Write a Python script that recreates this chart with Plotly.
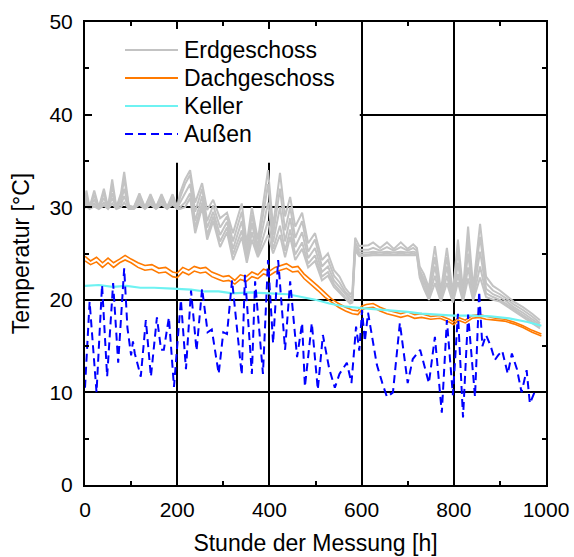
import plotly.graph_objects as go

# ---------------- data ----------------
# Erdgeschoss: five gray sensor curves on a common hour grid
EG_HOURS = [0, 3, 10, 20, 30, 41, 50, 59, 68, 78, 85, 95, 106, 118, 130, 142, 154, 166, 178, 190, 200,
            206, 217, 228, 239, 254, 265, 278, 293, 308, 321, 340, 351, 362, 375, 397, 408, 423, 434, 445,
            456, 471, 484, 499, 514, 527, 540, 552, 564, 575, 580, 586, 595, 615, 625, 640, 655, 670, 685,
            700, 712,
            720, 726, 735, 746, 759, 772, 785, 798, 809, 820, 831, 842, 857, 870, 885, 900, 915, 930, 950,
            970, 987]
EG_1 = [30.5, 31.8, 30.0, 31.8, 30.0, 32.0, 30.0, 33.0, 30.0, 31.5, 33.8, 30.2, 30.0, 31.5, 30.0, 31.4, 30.0, 31.4, 30.0, 31.4, 30.0,
        31.5, 33.0, 34.0, 30.5, 32.6, 29.7, 30.8, 28.8, 29.4, 27.2, 30.4, 26.1, 30.0, 26.5, 34.0, 27.9, 33.7, 29.0, 31.1,
        27.9, 29.4, 26.1, 27.2, 24.3, 25.0, 23.2, 22.5, 21.3, 20.6, 20.8, 26.7, 25.8, 25.9, 26.2, 25.6, 26.2, 25.5, 26.2,
        25.5, 26.0,
        25.6, 23.6, 22.8, 21.3, 25.8, 21.0, 25.6, 20.8, 26.5, 21.0, 27.9, 21.3, 28.2, 22.5, 21.5, 21.0, 20.4, 19.8, 19.2,
        18.5, 17.8]
EG_2 = [30.3, 31.3, 30.0, 31.3, 30.0, 31.5, 30.0, 32.3, 30.0, 31.0, 33.0, 30.1, 30.0, 31.2, 30.0, 31.2, 30.0, 31.2, 30.0, 31.2, 30.0,
        31.0, 32.5, 33.5, 29.5, 32.0, 28.5, 30.2, 27.8, 29.0, 26.3, 29.5, 25.3, 29.2, 25.7, 32.5, 27.0, 32.0, 27.5, 30.0,
        26.7, 28.5, 25.2, 26.5, 23.6, 24.3, 22.6, 21.9, 20.9, 20.3, 20.4, 26.2, 25.4, 25.4, 25.6, 25.3, 25.7, 25.3, 25.7,
        25.3, 25.6,
        25.3, 23.2, 22.3, 20.9, 24.6, 20.6, 24.6, 20.4, 25.3, 20.6, 26.5, 20.9, 26.8, 21.8, 21.0, 20.6, 20.1, 19.5, 18.9,
        18.2, 17.5]
EG_3 = [30.2, 30.8, 30.0, 30.8, 30.0, 31.0, 30.0, 31.5, 30.0, 30.6, 32.0, 30.0, 30.0, 30.9, 30.0, 30.9, 30.0, 30.9, 30.0, 30.9, 29.9,
        30.5, 31.5, 32.5, 28.5, 31.2, 27.8, 29.5, 27.0, 28.4, 25.5, 28.5, 24.8, 28.3, 25.2, 30.5, 26.2, 30.0, 26.3, 28.8,
        25.7, 27.3, 24.5, 25.6, 23.0, 23.6, 22.1, 21.4, 20.6, 20.0, 20.1, 25.8, 25.1, 25.1, 25.2, 25.1, 25.2, 25.1, 25.2,
        25.1, 25.2,
        25.1, 23.0, 21.9, 20.6, 23.6, 20.3, 23.6, 20.1, 24.0, 20.3, 25.0, 20.5, 25.2, 21.2, 20.6, 20.3, 19.8, 19.2, 18.6,
        17.9, 17.3]
EG_4 = [30.0, 30.4, 29.9, 30.4, 29.9, 30.5, 29.9, 31.0, 29.9, 30.3, 31.2, 29.9, 29.9, 30.6, 29.9, 30.6, 29.9, 30.6, 29.9, 30.6, 29.9,
        30.0, 30.5, 31.5, 27.8, 30.5, 27.0, 29.0, 26.3, 27.8, 24.9, 27.5, 24.3, 27.3, 24.8, 28.5, 25.5, 28.0, 25.3, 27.6,
        24.9, 26.2, 23.9, 24.8, 22.5, 23.0, 21.7, 21.0, 20.3, 19.8, 19.9, 25.5, 24.9, 24.9, 25.0, 24.9, 25.0, 24.9, 25.0,
        24.9, 25.0,
        24.9, 22.7, 21.5, 20.3, 22.6, 20.0, 22.6, 19.9, 22.8, 20.0, 23.5, 20.2, 23.6, 20.7, 20.3, 20.0, 19.5, 19.0, 18.4,
        17.7, 17.1]
EG_5 = [29.9, 30.1, 29.8, 30.1, 29.8, 30.2, 29.8, 30.4, 29.8, 30.0, 30.5, 29.8, 29.8, 30.3, 29.8, 30.3, 29.8, 30.3, 29.8, 30.3, 29.8,
        29.8, 30.0, 31.0, 27.2, 30.0, 26.5, 28.5, 25.7, 27.3, 24.3, 26.8, 24.0, 26.5, 24.6, 27.0, 25.0, 27.0, 24.6, 26.8,
        24.3, 25.5, 23.5, 24.2, 22.1, 22.6, 21.4, 20.8, 20.1, 19.6, 19.7, 25.3, 24.7, 24.8, 24.8, 24.8, 24.8, 24.8, 24.8,
        24.8, 24.8,
        24.8, 22.4, 21.2, 20.0, 21.8, 19.8, 21.8, 19.7, 21.9, 19.8, 22.3, 19.9, 22.4, 20.3, 20.0, 19.8, 19.3, 18.8, 18.2,
        17.5, 16.9]

# Dachgeschoss: two orange sensor curves
DG_HOURS = [0, 12, 25, 38, 50, 62, 75, 87, 100, 115, 130, 145, 160, 175, 190, 200, 212, 225, 237, 250,
            262, 275, 290, 300, 312, 325, 337, 350, 362, 375, 387, 400, 412, 425, 437, 450, 462, 475, 490, 505,
            520, 535, 550, 565, 580, 592, 600, 610, 625, 640, 655, 670, 685, 700, 715, 730, 750, 770, 790, 800,
            810, 825, 840, 855, 870, 890, 910, 930, 950, 970, 990]
DG_1 = [24.7, 24.2, 24.6, 24.0, 24.5, 24.0, 24.4, 24.8, 24.4, 24.0, 23.7, 23.8, 23.4, 23.5, 23.0, 22.9, 23.5, 23.2, 23.6, 23.4,
        23.5, 23.0, 22.7, 22.5, 22.6, 22.1, 22.7, 22.5, 23.0, 22.7, 23.3, 23.1, 23.5, 23.7, 23.9, 23.5, 23.6, 22.8, 22.2, 21.5,
        20.8, 20.1, 19.6, 19.2, 18.9, 18.8, 19.3, 19.5, 19.6, 19.2, 18.9, 18.7, 18.5, 18.7, 18.4, 18.5, 18.2, 18.3, 17.9, 17.6,
        18.1, 17.8, 18.3, 18.4, 18.2, 18.0, 17.9, 17.6, 17.2, 16.7, 16.3]
DG_2 = [24.2, 23.8, 24.1, 23.5, 24.0, 23.5, 24.0, 24.3, 24.0, 23.5, 23.2, 23.3, 22.9, 23.0, 22.5, 22.4, 23.0, 22.7, 23.1, 22.9,
        23.0, 22.5, 22.2, 22.0, 22.1, 21.7, 22.2, 22.0, 22.5, 22.3, 22.8, 22.6, 23.0, 23.2, 23.4, 23.0, 23.1, 22.3, 21.7, 21.0,
        20.3, 19.7, 19.2, 18.8, 18.5, 18.4, 18.9, 19.1, 19.2, 18.8, 18.5, 18.3, 18.1, 18.3, 18.0, 18.1, 17.9, 18.0, 17.6, 17.3,
        17.8, 17.5, 18.0, 18.1, 17.9, 17.8, 17.7, 17.4, 17.0, 16.5, 16.1]

# Keller
KE_HOURS = [0, 30, 60, 90, 120, 150, 190, 230, 260, 290, 320, 360, 400, 440, 470, 500, 530, 560, 600, 630,
            660, 700, 730, 770, 800, 840, 880, 920, 960, 990]
KE_TEMP = [21.5, 21.6, 21.4, 21.5, 21.3, 21.3, 21.2, 21.1, 20.9, 20.9, 20.7, 20.8, 20.7, 20.6, 20.3, 20.0, 19.6, 19.3, 19.1, 19.0,
           18.9, 18.7, 18.5, 18.4, 18.3, 18.3, 18.2, 18.0, 17.6, 17.2]

# Außen (outdoor)
AU_HOURS = [0, 10, 25, 37, 48, 61, 72, 85, 92, 100, 104, 108, 121, 132, 143, 156, 165, 171, 182, 193,
            208, 219, 230, 242, 254, 266, 275, 290, 300, 308, 319, 340, 347, 362, 369, 386, 397, 408, 419, 434,
            445, 460, 471, 477, 492, 505, 516, 530, 542, 552, 568, 578, 588, 595, 601, 607, 614, 633, 645, 655,
            668, 683, 700, 711, 727, 746, 759, 774, 785, 798, 809, 820, 831, 846, 855, 862, 870, 880, 889, 896,
            905, 917, 926, 937, 947, 958, 965, 975, 980]
AU_TEMP = [10.5, 19.8, 10.0, 21.6, 11.7, 21.8, 13.2, 23.4, 17.0, 14.0, 15.5, 14.2, 11.7, 17.8, 11.7, 18.1, 14.6, 14.6, 18.1, 10.6,
           20.0, 12.5, 21.0, 14.5, 21.2, 16.5, 16.8, 12.0, 16.5, 16.3, 22.1, 11.9, 22.7, 12.0, 22.0, 12.0, 24.3, 15.3, 24.3, 14.6,
           22.0, 13.8, 17.5, 10.6, 17.5, 10.3, 16.2, 12.5, 10.5, 12.0, 13.2, 11.0, 17.1, 14.5, 18.9, 15.5, 18.6, 13.0, 11.0, 9.5,
           10.0, 17.5, 11.0, 13.6, 14.6, 11.0, 16.0, 7.8, 17.8, 9.7, 18.5, 7.3, 18.4, 9.5, 20.9, 15.0, 16.2, 15.0, 13.5, 14.0,
           14.5, 12.0, 14.2, 12.5, 10.0, 12.4, 8.8, 10.0, 10.2]

X_TICKS = [0, 200, 400, 600, 800, 1000]
Y_TICKS = [0, 10, 20, 30, 40, 50]
LEGEND_NAMES = ["Erdgeschoss", "Dachgeschoss", "Keller", "Außen"]

# ---------------- styles ----------------
FONT = "Liberation Sans, Arial, sans-serif"
C_GRAY = "#c3c3c3"
C_ORANGE = "#ff7a00"
C_CYAN = "#6ef2f2"
C_BLUE = "#0000ff"

fig = go.Figure()
for s in [EG_1, EG_2, EG_3, EG_4, EG_5]:
    fig.add_trace(go.Scatter(x=EG_HOURS, y=s, mode="lines", name=LEGEND_NAMES[0],
                             line=dict(color=C_GRAY, width=2), showlegend=False))
for s in [DG_1, DG_2]:
    fig.add_trace(go.Scatter(x=DG_HOURS, y=s, mode="lines", name=LEGEND_NAMES[1],
                             line=dict(color=C_ORANGE, width=1.6), showlegend=False))
fig.add_trace(go.Scatter(x=KE_HOURS, y=KE_TEMP, mode="lines", name=LEGEND_NAMES[2],
                         line=dict(color=C_CYAN, width=2.2), showlegend=False))
fig.add_trace(go.Scatter(x=AU_HOURS, y=AU_TEMP, mode="lines", name=LEGEND_NAMES[3],
                         line=dict(color=C_BLUE, width=2, dash="8px,5px"), showlegend=False))

# white legend box covering the grid (below the traces)
fig.add_shape(type="rect", xref="x", yref="y", x0=0, x1=596, y0=34.8, y1=50,
              fillcolor="white", line=dict(width=0), layer="between")

# hand-drawn legend
leg_styles = [dict(color=C_GRAY, width=2), dict(color=C_ORANGE, width=2),
              dict(color=C_CYAN, width=2), dict(color=C_BLUE, width=2, dash="8px,5px")]
leg_y = [0.9395, 0.879, 0.8186, 0.758]
for name, st, yy in zip(LEGEND_NAMES, leg_styles, leg_y):
    fig.add_shape(type="line", xref="paper", yref="paper", x0=0.0868, x1=0.2017, y0=yy, y1=yy,
                  line=st, layer="above")
    fig.add_annotation(xref="paper", yref="paper", x=0.2104, y=yy, text=name, showarrow=False,
                       xanchor="left", yanchor="middle", font=dict(family=FONT, size=23, color="black"))

axis_common = dict(showline=True, linecolor="black", linewidth=2, mirror="ticks",
                   ticks="inside", ticklen=7, tickwidth=1.5, tickcolor="black",
                   showgrid=True, gridcolor="black", gridwidth=1.5, zeroline=False,
                   tickfont=dict(family=FONT, size=21, color="black"))

fig.update_xaxes(range=[0, 1000], tickvals=X_TICKS, ticktext=[str(v) for v in X_TICKS],
                 minor=dict(dtick=100, ticks="inside", ticklen=4, tickcolor="black", showgrid=False),
                 title=dict(text="Stunde der Messung [h]", font=dict(family=FONT, size=23, color="black"),
                            standoff=15),
                 ticklabelstandoff=5, **axis_common)
fig.update_yaxes(range=[0, 50], tickvals=Y_TICKS, ticktext=[str(v) for v in Y_TICKS],
                 minor=dict(dtick=5, ticks="inside", ticklen=4, tickcolor="black", showgrid=False),
                 title=dict(text="Temperatur [°C]", font=dict(family=FONT, size=23, color="black"),
                            standoff=13),
                 ticklabelstandoff=6, **axis_common)

fig.update_layout(width=574, height=557, margin=dict(l=85, r=28, t=22, b=72, autoexpand=False),
                  plot_bgcolor="white", paper_bgcolor="white", showlegend=False,
                  font=dict(family=FONT, color="black"))

# the page's default 8px body margin would shift the chart; remove it
fig.write_html("out.html", config={"displayModeBar": False},
               post_script="document.body.style.margin='0';document.body.style.overflow='hidden';")
